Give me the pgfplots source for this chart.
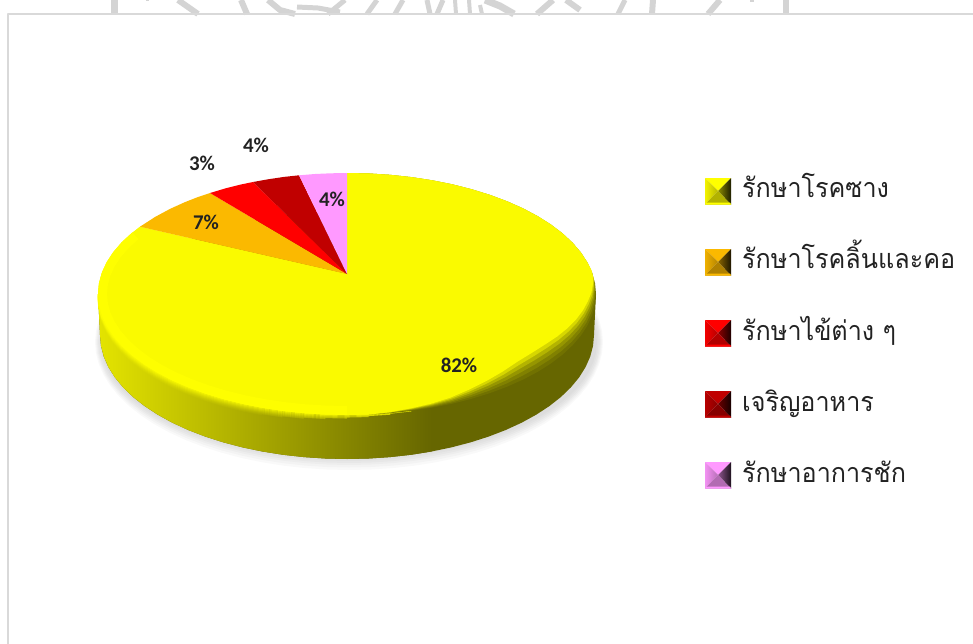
\documentclass[border=0pt]{standalone}
\usepackage{pgfplots}
\usepackage{pgfplotstable}
\usepackage{fontspec}
\pgfplotsset{compat=1.18}
\setmainfont{Carlito}
\newfontfamily\thaifont[Script=Thai,FakeStretch=0.935]{Loma}
\definecolor{cframe}{HTML}{D9D9D9}
\definecolor{cmark}{HTML}{D4D4D4}
\definecolor{cyel}{HTML}{FAFA00}
\definecolor{cyelb}{HTML}{FFFF00}
\definecolor{corg}{HTML}{FBB900}
\definecolor{cred}{HTML}{FF0000}
\definecolor{cdrk}{HTML}{C00000}
\definecolor{cpnk}{HTML}{FF99FF}
\definecolor{csideL}{HTML}{E4E400}
\definecolor{csideR}{HTML}{666600}
\definecolor{ctext}{HTML}{222222}
% c s : unit-ellipse coordinates of the pie's outline; first row is the apex
% b : depth of the shaded bevel at that point of the rim, in pixels
\pgfplotstableread{
c s b
0 -0.16529 0
0 -1 0
0.08716 -0.99619 0
0.17365 -0.98481 0
0.25882 -0.96593 0
0.34202 -0.93969 0
0.42262 -0.90631 0
0.5 -0.86603 0
0.57358 -0.81915 0
0.64279 -0.76604 0
0.70711 -0.70711 0
0.76604 -0.64279 0
0.81915 -0.57358 0
0.86603 -0.5 0
0.90631 -0.42262 0
0.93969 -0.34202 0
0.96593 -0.25882 0
0.98481 -0.17365 3
0.99619 -0.08716 6
1 0 10
0.99619 0.08716 12
0.98481 0.17365 14
0.96593 0.25882 15
0.93969 0.34202 16
0.90631 0.42262 17
0.86603 0.5 18
0.81915 0.57358 19
0.76604 0.64279 19
0.70711 0.70711 18
0.64279 0.76604 15
0.57358 0.81915 12
0.5 0.86603 9
0.42262 0.90631 6
0.34202 0.93969 4
0.25882 0.96593 2.5
0.17365 0.98481 1
0.08716 0.99619 0
0 1 0
-0.08716 0.99619 0
-0.17365 0.98481 0
-0.25882 0.96593 0
-0.34202 0.93969 0
-0.42262 0.90631 0
-0.5 0.86603 0
-0.57358 0.81915 0
-0.64279 0.76604 0
-0.70711 0.70711 0
-0.76604 0.64279 0
-0.81915 0.57358 0
-0.86603 0.5 0
-0.90631 0.42262 0
-0.93969 0.34202 0
-0.96593 0.25882 0
-0.98481 0.17365 0
-0.99619 0.08716 0
-1 0 0
-0.99619 -0.08716 0
-0.98481 -0.17365 0
-0.96593 -0.25882 0
-0.93969 -0.34202 0
-0.90631 -0.42262 0
-0.86603 -0.5 0
-0.83133 -0.5558 0
-0.81915 -0.57358 0
-0.76604 -0.64279 0
-0.70711 -0.70711 0
-0.64279 -0.76604 0
-0.57358 -0.81915 0
-0.5 -0.86603 0
-0.42262 -0.90631 0
-0.34202 -0.93969 0
-0.25882 -0.96593 0
-0.17365 -0.98481 0
-0.08716 -0.99619 0
0 -1 0
}\outline
\newcommand\shadowring[3]{\addplot[draw=none,fill=black,fill opacity=0.025,skip coords between index={0}{1}]
  table[x expr={349+#1*\thisrow{c}},y expr={#3+#2*\thisrow{s}}]{\outline};}
% rim stroke: y offset, opacity, first row
\newcommand\rimline[3]{\addplot[draw=cyelb,draw opacity=#2,line width=1.1pt,skip coords between index={0}{#3},skip coords between index={56}{100}]
  table[x expr={347+249*\thisrow{c}},y expr={294+#1+121*\thisrow{s}}]{\outline};}
% the large slice, drawn in layers that fade into the bevel: depth factor, opacity
\newcommand\faceLayer[2]{\addplot[draw=none,fill=cyel,fill opacity=#2,skip coords between index={63}{100}]
  table[x expr={347+249*\thisrow{c}-0.3*#1*\thisrow{b}},y expr={294+121*\thisrow{s}-#1*\thisrow{b}}]{\outline};}
% legend swatch: colour, top, middle, bottom, y of bottom strip
\newcommand\swatch[5]{%
 \addplot[draw=none,fill=#1] coordinates {(705,#2) (731,#2) (718,#3)};
 \addplot[draw=none,left color=#1!95!black,right color=#1!72!black] coordinates {(705,#2) (718,#3) (705,#4)};
 \addplot[draw=none,left color=#1!55!black,right color=#1!12!black] coordinates {(731,#2) (718,#3) (731,#4)};
 \addplot[draw=none,fill=#1!70!black] coordinates {(705,#4) (718,#3) (731,#4)};
 \addplot[draw=none,fill=#1] coordinates {(706,#5) (730,#5) (731,#4) (705,#4)};
}
\newcommand\wm[2]{\addplot[draw=cmark,line width=#1pt] coordinates {#2};}
\begin{document}
\begin{tikzpicture}
\useasboundingbox (0,0) rectangle (973bp,644bp);
\begin{axis}[
  at={(0,0)},anchor=south west,
  scale only axis,width=973bp,height=644bp,
  xmin=0,xmax=973,ymin=0,ymax=644,y dir=reverse,
  axis lines=none,ticks=none,no markers,
  clip=true,
  every axis plot/.append style={line join=round}
]
% watermark strip above the frame
\wm{7}{(114.5,0) (114.5,14)}
\wm{3}{(146,0) (149,0)}
\wm{6}{(178,0) (198,14)}
\wm{6}{(241,0) (247,14)}
\wm{6}{(268,0) (280,10) (295,14)}
\wm{5}{(297,7) (318,8) (340,12)}
\wm{5}{(345,0) (328,14)}
\wm{5}{(377,0) (367,14)}
\wm{5}{(403,0) (395,14)}
\wm{5}{(427,0) (430,14)}
\wm{5}{(443,0) (437,14)}
\wm{4}{(455,0) (456,14)}
\wm{4}{(469,0) (470,14)}
\wm{4}{(480,5) (482,14)}
\wm{7}{(485,0) (500,6) (514,14)}
\wm{6}{(553,0) (537,14)}
\wm{6}{(566,0) (580,10)}
\wm{5}{(625,0) (618,14)}
\wm{6}{(653,0) (652,14)}
\wm{6}{(720,0) (708,14)}
\wm{4}{(750,0) (754,0)}
\wm{7}{(786,0) (786,14)}
% frame
\addplot[draw=cframe,line width=2pt] coordinates {(8,644) (8,14) (973,14)};
% shadow
\shadowring{248}{117}{342}
\shadowring{249.5}{119}{342}
\shadowring{251}{121}{342}
\shadowring{252}{123}{342}
\shadowring{253}{125.5}{342}
\shadowring{254}{128}{342}
% side wall
\addplot[draw=none,fill=csideR,skip coords between index={0}{1}]
  table[x expr={347+247*\thisrow{c}},y expr={335+124*\thisrow{s}}]{\outline};
\addplot[draw=none,fill=csideR] coordinates {(98,294) (596,294) (594,335) (100,335)};
\addplot[draw=none,left color=csideL,right color=csideR,shading=axis] coordinates {
 (431.5,451.5) (410.9,454.8) (389.9,457.1) (368.5,458.5) (347,459) (325.5,458.5) (304.1,457.1)
 (283.1,454.8) (262.5,451.5) (242.6,447.4) (223.5,442.4) (205.3,436.6) (188.2,430) (172.3,422.7)
 (157.8,414.7) (144.7,406.1) (133.1,397) (123.1,387.4) (114.9,377.4) (108.4,367.1) (103.8,356.5)
 (101,345.8) (100,335) (98,294) (431.5,294)};
% soft rim between top face and side
\rimline{7}{0.06}{41}
\rimline{6}{0.12}{40}
\rimline{5}{0.2}{39}
\rimline{4}{0.3}{38}
\rimline{3}{0.42}{37}
\rimline{2}{0.55}{36}
\rimline{1}{0.7}{35}
\rimline{0}{0.85}{34}
% dark base of the bevel, then slices: 82, 7, 3, 4, 4
\addplot[draw=none,fill=csideR,skip coords between index={0}{1},skip coords between index={37}{100}]
  table[x expr={347+249*\thisrow{c}},y expr={294+121*\thisrow{s}}]{\outline};
\faceLayer{0}{0.08}
\faceLayer{0.2}{0.12}
\faceLayer{0.4}{0.18}
\faceLayer{0.6}{0.3}
\faceLayer{0.8}{0.5}
\faceLayer{1}{1}
\addplot[draw=cyelb,line width=9pt,draw opacity=0.9,skip coords between index={0}{37},skip coords between index={62}{100}]
  table[x expr={347+244.5*\thisrow{c}},y expr={294+116.5*\thisrow{s}}]{\outline};
\addplot[draw=none,fill=corg] coordinates {(347,274) (140,226.7) (155,217) (170,208.9) (185,202.1) (197,197.4) (210,193)};
\addplot[draw=none,fill=cred] coordinates {(347,274) (210,193) (225,188.5) (240,184.7) (253,182)};
\addplot[draw=none,fill=cdrk] coordinates {(347,274) (253,182) (268,179.3) (284,176.9) (299,175.3)};
\addplot[draw=none,fill=cpnk] coordinates {(347,274) (299,175.3) (315,174) (331,173.3) (347,173)};
% data labels
\begin{scope}[every node/.style={text=ctext,font=\bfseries\fontsize{21}{22}\selectfont,inner sep=0pt}]
\node at (axis cs:459,365) {82\%};
\node at (axis cs:206,222) {7\%};
\node at (axis cs:202,163) {3\%};
\node at (axis cs:256,145) {4\%};
\node at (axis cs:332,199) {4\%};
\end{scope}
% legend
\swatch{cyelb}{178}{191}{204.5}{202.5}
\swatch{corg}{249}{262}{275.5}{273.5}
\swatch{cred}{320}{333}{346.5}{344.5}
\swatch{cdrk}{391}{404}{417.5}{415.5}
\swatch{cpnk}{462}{475}{488.5}{486.5}
\begin{scope}[every node/.style={text=ctext,anchor=base west,inner sep=0pt,font=\thaifont\fontsize{27}{30}\selectfont}]
\node at (axis cs:742,197) {รักษาโรคซาง};
\node at (axis cs:742,268) {รักษาโรคลิ้นและคอ};
\node at (axis cs:742,340) {รักษาไข้ต่าง ๆ};
\node at (axis cs:742,411) {เจริญอาหาร};
\node at (axis cs:742,482) {รักษาอาการชัก};
\end{scope}
\end{axis}
\end{tikzpicture}
\end{document}
